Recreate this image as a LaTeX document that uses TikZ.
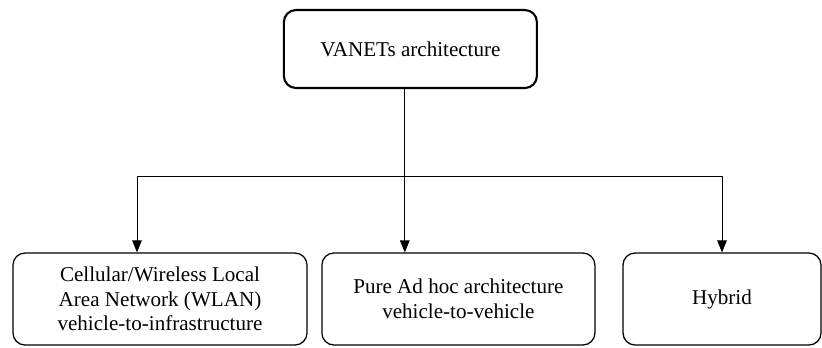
\documentclass[tikz,border=0pt]{standalone}
\usepackage{fontspec}
\setmainfont{Liberation Serif}
\usetikzlibrary{arrows.meta}
\tikzset{
	topbox/.style={draw, line width=1.5pt, rounded corners=0.3cm, align=center,
		minimum width=6.325cm, minimum height=1.95cm, font=\fontsize{15}{17}\selectfont},
	leafbox/.style={draw, line width=0.9pt, rounded corners=0.3cm, align=center,
		minimum height=2.3cm, font=\fontsize{15}{17.5}\selectfont},
	branch/.style={-{Triangle[length=0.3cm,width=0.24cm]}, line width=0.6pt}
}
\begin{document}
\begin{tikzpicture}
	\useasboundingbox (0,0) rectangle (20.55,-8.675);
	%root
	\node[topbox] (arch) at (10.26,-1.225) {VANETs architecture};
	%leaves
	\node[leafbox, minimum width=7.35cm] (wlan) at (4.0,-7.475)
		{Cellular/Wireless Local\\Area Network (WLAN)\\vehicle-to-infrastructure};
	\node[leafbox, minimum width=6.825cm] (adhoc) at (11.46,-7.475)
		{Pure Ad hoc architecture\\vehicle-to-vehicle};
	\node[leafbox, minimum width=4.95cm] (hybrid) at (18.05,-7.475) {Hybrid};
	%connectors
	\coordinate (bus) at (0,-4.4);
	\draw[branch] ([xshift=-0.14cm]arch.south) -- ([xshift=-0.14cm]arch.south |- adhoc.north);
	\draw[branch] ([xshift=-0.14cm]arch.south |- bus) -| ([xshift=-0.575cm]wlan.north);
	\draw[branch] ([xshift=-0.14cm]arch.south |- bus) -| (hybrid.north);
\end{tikzpicture}
\end{document}
